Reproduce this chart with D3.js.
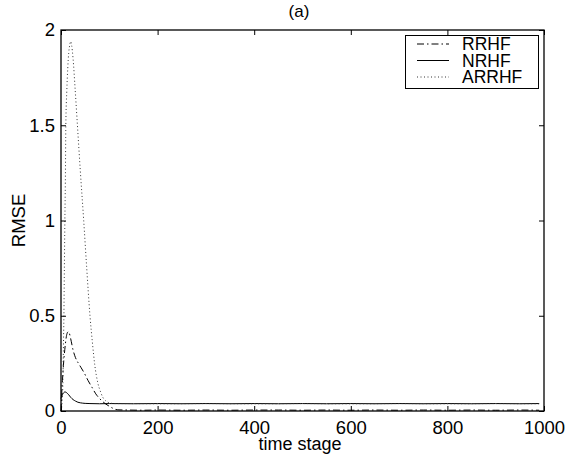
<!DOCTYPE html>
<html>
<head>
<meta charset="utf-8">
<script src="https://cdn.jsdelivr.net/npm/d3@7"></script>
<style>
  html, body { margin: 0; padding: 0; background: #fff; }
  svg { display: block; font-family: "Liberation Sans", Arial, Helvetica, sans-serif; }
</style>
</head>
<body>
<svg id="chart" width="566" height="454"></svg>
<script>
// ---- Data ----
const seriesNames = ["RRHF", "NRHF", "ARRHF"];

const rrhfT = [0, 1, 2, 3, 5, 7, 9, 11, 13, 15, 17, 20, 25, 30, 35, 41, 48, 56, 64, 72, 79, 86, 93, 100, 106, 112, 120, 140, 170, 200, 250, 300, 350, 400, 450, 500, 550, 600, 650, 700, 750, 800, 850, 900, 950, 990];
const rrhfV = [0, 0.06, 0.12, 0.16, 0.24, 0.30, 0.35, 0.39, 0.41, 0.416, 0.41, 0.38, 0.32, 0.28, 0.255, 0.23, 0.20, 0.16, 0.125, 0.09, 0.068, 0.05, 0.036, 0.025, 0.016, 0.009, 0.006, 0.005, 0.004, 0.005, 0.004, 0.005, 0.004, 0.005, 0.005, 0.004, 0.005, 0.004, 0.005, 0.004, 0.005, 0.004, 0.005, 0.004, 0.005, 0.004];

const nrhfT = [0, 2, 4, 6, 8, 10, 13, 16, 20, 25, 30, 35, 40, 50, 60, 80, 100, 150, 200, 250, 300, 350, 400, 450, 500, 550, 600, 650, 700, 750, 800, 850, 900, 950, 990];
const nrhfV = [0.065, 0.08, 0.09, 0.097, 0.1, 0.099, 0.093, 0.085, 0.072, 0.06, 0.052, 0.046, 0.043, 0.040, 0.039, 0.038, 0.039, 0.038, 0.039, 0.038, 0.039, 0.038, 0.039, 0.038, 0.039, 0.038, 0.039, 0.038, 0.039, 0.038, 0.039, 0.038, 0.039, 0.038, 0.039];

const arrhfT = [0, 2, 4, 5, 6, 7, 8, 9, 10, 12, 14, 16, 18, 20, 22, 25, 29, 34, 40, 47, 53, 60, 65, 70, 76, 82, 87, 92, 97, 103, 110, 150, 200, 300, 400, 500, 600, 700, 800, 900, 990];
const arrhfV = [0, 0.04, 0.16, 0.33, 0.5, 0.75, 1.0, 1.2, 1.5, 1.68, 1.8, 1.88, 1.92, 1.94, 1.92, 1.85, 1.7, 1.5, 1.26, 1.0, 0.76, 0.5, 0.36, 0.24, 0.15, 0.1, 0.07, 0.055, 0.046, 0.041, 0.039, 0.039, 0.038, 0.039, 0.038, 0.039, 0.038, 0.039, 0.038, 0.039, 0.038];

const xTicks = [0, 200, 400, 600, 800, 1000];
const yTicks = [0, 0.5, 1, 1.5, 2];
const xTickLabels = ["0", "200", "400", "600", "800", "1000"];
const yTickLabels = ["0", "0.5", "1", "1.5", "2"];
const titleText = "(a)";
const xLabelText = "time stage";
const yLabelText = "RMSE";

// ---- Layout ----
const svg = d3.select("#chart");
const mLeft = 61, mRight = 544, mTop = 30, mBottom = 411;
const fontSize = "18.5px";
const x = d3.scaleLinear().domain([0, 1000]).range([mLeft, mRight]);
const y = d3.scaleLinear().domain([0, 2]).range([mBottom, mTop]);

const styles = {
  RRHF: { dash: "7,3,1.5,3", width: 1, color: "#000" },
  NRHF: { dash: null, width: 1, color: "#000" },
  ARRHF: { dash: "1,2.5", width: 1, color: "#333" }
};

const data = {
  RRHF: rrhfT.map((t, i) => [t, rrhfV[i]]),
  NRHF: nrhfT.map((t, i) => [t, nrhfV[i]]),
  ARRHF: arrhfT.map((t, i) => [t, arrhfV[i]])
};

const line = d3.line().x(d => x(d[0])).y(d => y(d[1])).curve(d3.curveMonotoneX);

// Lines
const g = svg.append("g");
["NRHF", "RRHF", "ARRHF"].forEach(name => {
  const s = styles[name];
  g.append("path")
    .datum(data[name])
    .attr("fill", "none")
    .attr("stroke", s.color)
    .attr("stroke-width", s.width)
    .attr("stroke-dasharray", s.dash)
    .attr("d", line);
});

// Axes (MATLAB-style: ticks inside, on all four sides)
const tickLen = 5;
const xAxisB = d3.axisBottom(x).tickValues(xTicks).tickSize(-tickLen).tickFormat((d, i) => xTickLabels[i]).tickPadding(10);
const xAxisT = d3.axisTop(x).tickValues(xTicks).tickSize(-tickLen).tickFormat("");
const yAxisL = d3.axisLeft(y).tickValues(yTicks).tickSize(-tickLen).tickFormat((d, i) => yTickLabels[i]).tickPadding(6);
const yAxisR = d3.axisRight(y).tickValues(yTicks).tickSize(-tickLen).tickFormat("");

function styleAxis(sel) {
  sel.select(".domain").remove();
  sel.selectAll(".tick line").attr("stroke", "#000").attr("stroke-width", 1);
  sel.selectAll(".tick text").attr("fill", "#000").style("font-size", fontSize)
    .style("font-family", '"Liberation Sans", Arial, sans-serif');
}
svg.append("g").attr("transform", `translate(0,${mBottom})`).call(xAxisB).call(styleAxis);
svg.append("g").attr("transform", `translate(0,${mTop})`).call(xAxisT).call(styleAxis);
svg.append("g").attr("transform", `translate(${mLeft},0)`).call(yAxisL).call(styleAxis);
svg.append("g").attr("transform", `translate(${mRight},0)`).call(yAxisR).call(styleAxis);

// Frame
svg.append("rect")
  .attr("x", mLeft).attr("y", mTop)
  .attr("width", mRight - mLeft).attr("height", mBottom - mTop)
  .attr("fill", "none").attr("stroke", "#000").attr("stroke-width", 1.3);

// Title & labels
svg.append("text").attr("x", 299).attr("y", 17).attr("text-anchor", "middle")
  .style("font-size", "17px").text(titleText);
svg.append("text").attr("x", 300).attr("y", 450).attr("text-anchor", "middle")
  .style("font-size", "18px").text(xLabelText);
svg.append("text").attr("transform", `translate(25,${(mTop + mBottom) / 2}) rotate(-90)`)
  .attr("text-anchor", "middle").style("font-size", fontSize).text(yLabelText);

// Legend
const lg = svg.append("g");
lg.append("rect").attr("x", 405.5).attr("y", 35.5).attr("width", 133).attr("height", 53)
  .attr("fill", "#fff").attr("stroke", "#000").attr("stroke-width", 1);
seriesNames.forEach((name, i) => {
  const cy = 44 + i * 16.5;
  const s = styles[name];
  lg.append("line").attr("x1", 417).attr("x2", 449).attr("y1", cy).attr("y2", cy)
    .attr("stroke", s.color).attr("stroke-width", s.width).attr("stroke-dasharray", s.dash);
  lg.append("text").attr("x", 462).attr("y", cy + 6.2).style("font-size", "17.5px").text(name);
});
</script>
</body>
</html>
